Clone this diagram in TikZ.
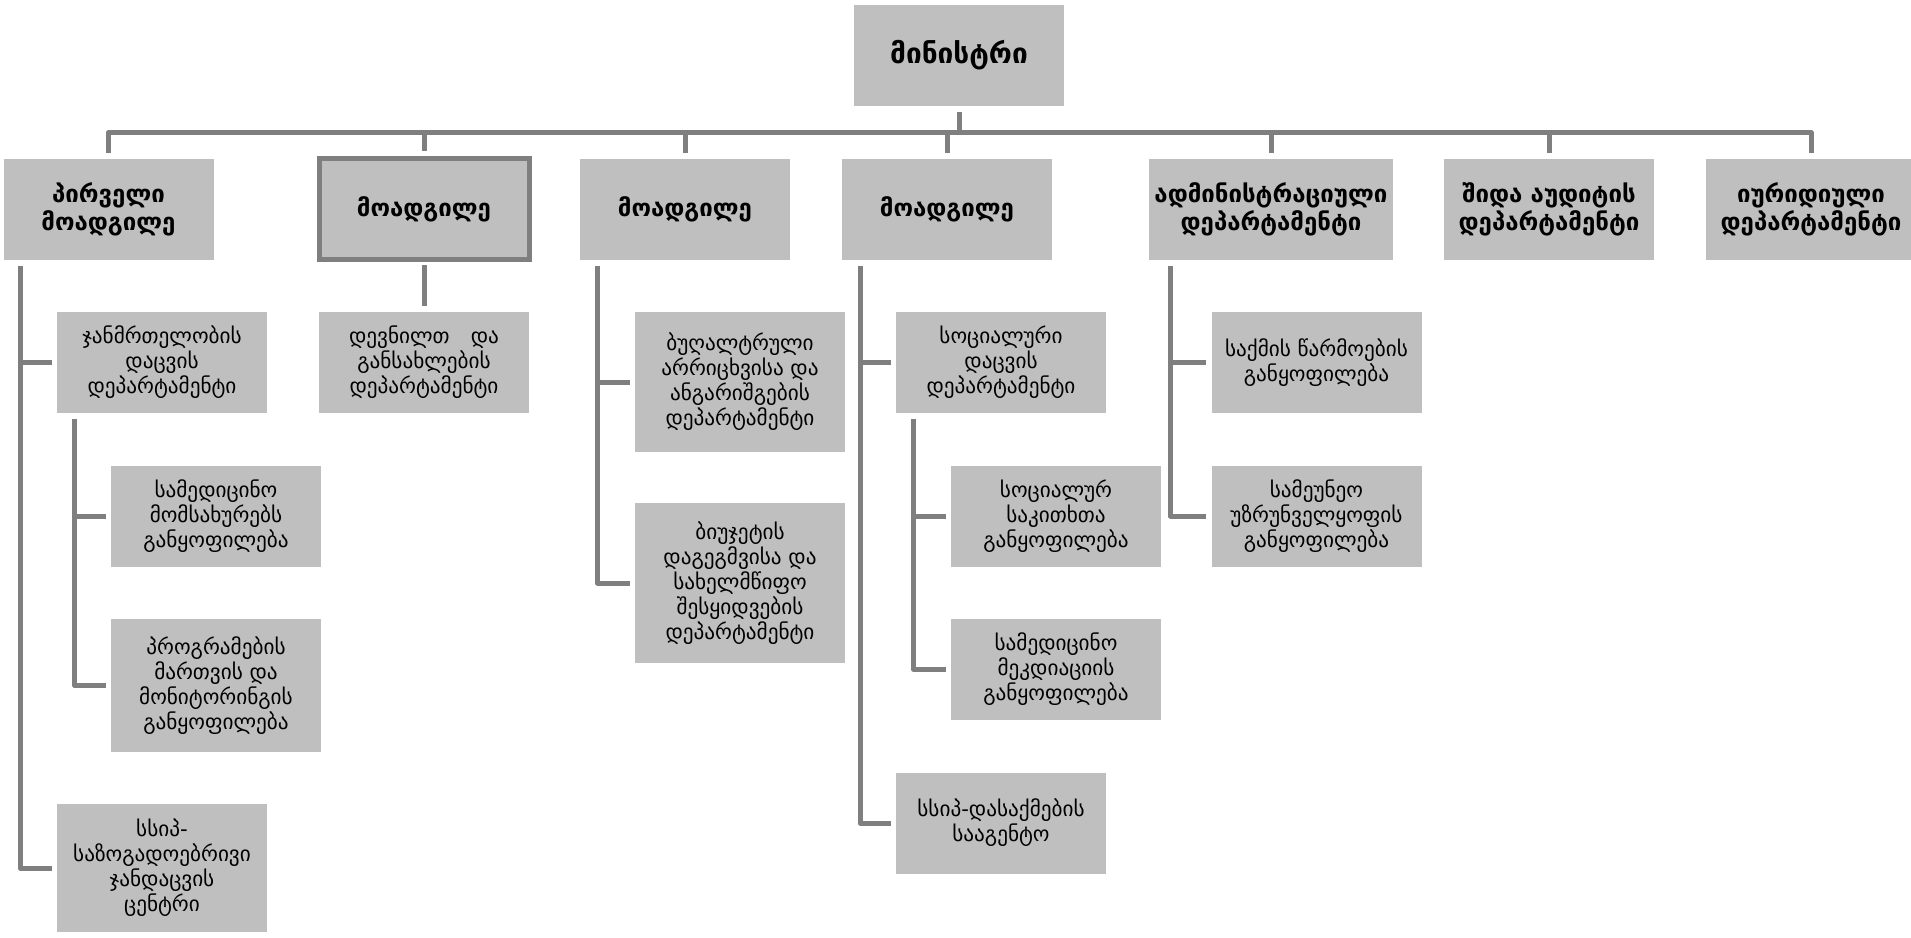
\documentclass[tikz,border=0pt]{standalone}
\usepackage{fontspec}
\setmainfont{DejaVu Sans}
\definecolor{boxgray}{HTML}{BFBFBF}
\definecolor{linegray}{HTML}{7F7F7F}

\begin{document}
\begin{tikzpicture}[x=0.5pt, y=-0.5pt,
    unit/.style={fill=boxgray, minimum width=105pt, minimum height=50.5pt, inner sep=1pt, align=center},
    top/.style={unit, font=\bfseries\fontsize{12}{14}\selectfont},
    sub/.style={unit, font=\fontsize{10.6}{12.5}\selectfont},
    conn/.style={draw=linegray, line width=2.5pt, line join=round}]
\useasboundingbox (0,0) rectangle (1911,937);

% minister
\node[unit, font=\bfseries\fontsize{14}{17}\selectfont] (min) at (959,55.5) {მინისტრი};

% first row
\node[top] (d1) at (108.5,209) {პირველი\\მოადგილე};
\node[top, draw=linegray, line width=2.5pt] (d2) at (424,209) {მოადგილე};
\node[top] (d3) at (685,209) {მოადგილე};
\node[top] (d4) at (947,209) {მოადგილე};
\node[top, minimum width=122pt] (d5) at (1271,209) {ადმინისტრაციული\\დეპარტამენტი};
\node[top] (d6) at (1549,209) {შიდა აუდიტის\\დეპარტამენტი};
\node[top] (d7) at (1811,209) {იურიდიული\\დეპარტამენტი};

% bus
\coordinate (bus) at (959,132.5);
\draw[conn] ([yshift=-3pt]min.south) -- (bus);
\draw[conn] ([yshift=2.5pt]d1.north) |- (bus) -| ([yshift=2.5pt]d7.north);
\foreach \n in {d2,d3,d4,d5,d6}
    \draw[conn] (\n.north |- bus) -- ([yshift=2.5pt]\n.north);

% first deputy
\node[sub] (c1a) at (162,362.5) {ჯანმრთელობის\\დაცვის\\დეპარტამენტი};
\node[sub] (c1a1) at (216,516) {სამედიცინო\\მომსახურებს\\განყოფილება};
\node[sub, minimum height=66.5pt] (c1a2) at (216,685.5) {პროგრამების\\მართვის და\\მონიტორინგის\\განყოფილება};
\node[sub, minimum height=64pt] (c1b) at (162,868) {სსიპ-\\საზოგადოებრივი\\ჯანდაცვის\\ცენტრი};
\draw[conn] ([xshift=8.5pt,yshift=-3pt]d1.south west) coordinate (v1) |- ([xshift=-2.5pt]c1b.west);
\draw[conn] (v1 |- c1a.west) -- ([xshift=-2.5pt]c1a.west);
\draw[conn] ([xshift=9pt,yshift=-3pt]c1a.south west) coordinate (v1a) |- ([xshift=-2.5pt]c1a2.west);
\draw[conn] (v1a |- c1a1.west) -- ([xshift=-2.5pt]c1a1.west);

% deputy 2
\node[sub] (c2a) at (424,362.5) {დევნილთ\quad და\\განსახლების\\დეპარტამენტი};
\draw[conn] ([yshift=-1.5pt]d2.south) -- ([yshift=3pt]c2a.north);

% deputy 3
\node[sub, minimum height=70pt] (c3a) at (740,382) {ბუღალტრული\\არრიცხვისა და\\ანგარიშგების\\დეპარტამენტი};
\node[sub, minimum height=80pt] (c3b) at (740,583) {ბიუჯეტის\\დაგეგმვისა და\\სახელმწიფო\\შესყიდვების\\დეპარტამენტი};
\draw[conn] ([xshift=9pt,yshift=-3pt]d3.south west) coordinate (v3) |- ([xshift=-2.5pt]c3b.west);
\draw[conn] (v3 |- c3a.west) -- ([xshift=-2.5pt]c3a.west);

% deputy 4
\node[sub] (c4a) at (1001,362.5) {სოციალური\\დაცვის\\დეპარტამენტი};
\node[sub] (c4a1) at (1056,516) {სოციალურ\\საკითხთა\\განყოფილება};
\node[sub] (c4a2) at (1056,669.5) {სამედიცინო\\მეკდიაციის\\განყოფილება};
\node[sub] (c4b) at (1001,823) {სსიპ-დასაქმების\\სააგენტო};
\draw[conn] ([xshift=9.25pt,yshift=-3pt]d4.south west) coordinate (v4) |- ([xshift=-2.5pt]c4b.west);
\draw[conn] (v4 |- c4a.west) -- ([xshift=-2.5pt]c4a.west);
\draw[conn] ([xshift=9pt,yshift=-3pt]c4a.south west) coordinate (v4a) |- ([xshift=-2.5pt]c4a2.west);
\draw[conn] (v4a |- c4a1.west) -- ([xshift=-2.5pt]c4a1.west);

% administration
\node[sub] (c5a) at (1316.5,362.5) {საქმის წარმოების\\განყოფილება};
\node[sub] (c5b) at (1316.5,516) {სამეუნეო\\უზრუნველყოფის\\განყოფილება};
\draw[conn] ([xshift=11pt,yshift=-3pt]d5.south west) coordinate (v5) |- ([xshift=-2.5pt]c5b.west);
\draw[conn] (v5 |- c5a.west) -- ([xshift=-2.5pt]c5a.west);

\end{tikzpicture}
\end{document}
